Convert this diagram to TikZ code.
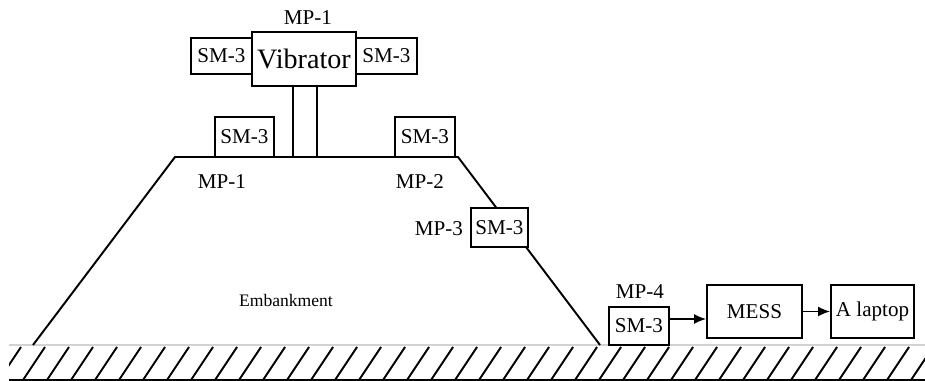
\documentclass[tikz,border=0pt]{standalone}
\usepackage{fontspec}
\setmainfont{Liberation Serif}
\usetikzlibrary{arrows.meta,calc,positioning}
\tikzset{
  box/.style={draw, line width=1.1pt, fill=white, inner sep=0pt,
    font=\fontsize{12}{14}\selectfont},
  lab/.style={font=\fontsize{12}{14}\selectfont, inner sep=0pt},
  bank/.style={line width=1.1pt, line join=miter},
  hatch/.style={line width=1.1pt},
  arr/.style={line width=0.9pt, -{Latex[length=2.4mm,width=2mm]}}
}

\begin{document}
\begin{tikzpicture}[x=0.02cm, y=-0.02cm]
\useasboundingbox (0,0) rectangle (925,381);

% Draw ground.
\draw[gray!35, line width=1.1pt] (9,345) -- (925,345);
\draw[line width=1.1pt] (9,380) -- (925,380);
\begin{scope}
\clip (9,346) rectangle (925,380);
\foreach \k in {0,...,39}
\draw[hatch] (-1+24*\k,380) -- (21+24*\k,347);
\end{scope}

% Draw embankment.
\draw[bank] (33,345) -- (175,157) -- (458,157) -- (600,345);
\node[font=\fontsize{10}{12}\selectfont] (bank) at (286,300) {Embankment};

% Vibrator on its pillar.
\draw[line width=1.1pt] (293,86) -- (293,157);
\draw[line width=1.1pt] (317,86) -- (317,157);
\node[box, minimum width=2.08cm, minimum height=1.08cm,
  font=\fontsize{16}{18}\selectfont] (vib) at (304,59) {Vibrator};
\node[box, minimum width=1.22cm, minimum height=0.72cm] (smvl) at (221.5,56) {SM-3};
\node[box, minimum width=1.22cm, minimum height=0.72cm] (smvr) at (386.5,56) {SM-3};
\node[lab] (mpv) at (308,18) {MP-1};

% Sensors on the embankment.
\node[box, minimum width=1.18cm, minimum height=0.8cm] (smt1) at (244.5,137) {SM-3};
\node[box, minimum width=1.2cm, minimum height=0.8cm] (smt2) at (425,137) {SM-3};
\node[box, minimum width=1.14cm, minimum height=0.78cm] (sms) at (499.5,227.5) {SM-3};
\node[lab] (mp1) at (222,182) {MP-1};
\node[lab] (mp2) at (420,182) {MP-2};
\node[lab] (mp3) at (439,229) {MP-3};

% Sensor on the ground and recording chain.
\node[box, minimum width=1.2cm, minimum height=0.76cm] (smg) at (639,326) {SM-3};
\node[lab] (mp4) at (640,292) {MP-4};
\node[box, minimum width=1.9cm, minimum height=1.06cm] (mess) at (754.5,311.5) {MESS};
\node[box, minimum width=1.66cm, minimum height=1.06cm] (laptop) at (872.5,311.5) {A laptop};

\coordinate (a1) at ([yshift=0.14cm]smg.east);
\draw[arr] (a1) -- (a1 -| mess.west);
\draw[arr] (mess.east) -- (laptop.west);
\end{tikzpicture}
\end{document}
